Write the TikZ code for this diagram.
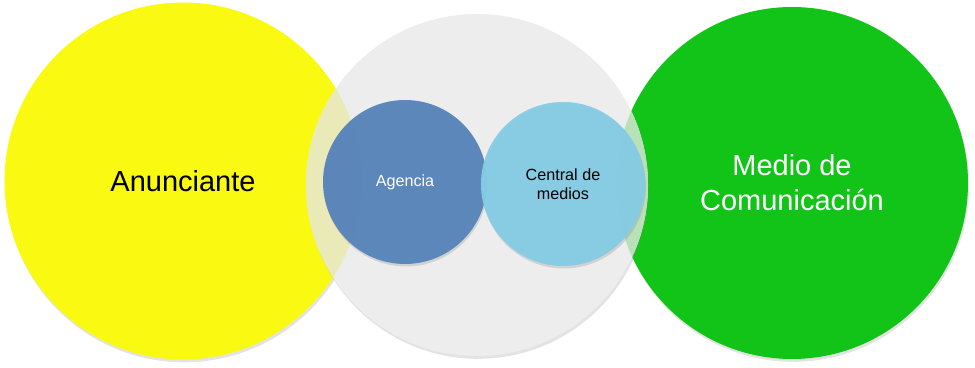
\documentclass[tikz,border=0pt]{standalone}
\usepackage{fontspec}
\setmainfont{Liberation Sans}
\usetikzlibrary{shadows}
\definecolor{anuncYellow}{HTML}{F9F912}
\definecolor{medioGreen}{HTML}{12C418}
\definecolor{ringGray}{HTML}{EDEDED}
\definecolor{paleYellow}{HTML}{EAEAB8}
\definecolor{paleGreen}{HTML}{BAE0BA}
\definecolor{agenBlue}{HTML}{5884BB}
\definecolor{centBlue}{HTML}{86CCE4}

\begin{document}
\begin{tikzpicture}[x=0.02cm, y=-0.02cm,
  bigcircle/.style={circle, draw=none, align=center, inner sep=0pt, font=\fontsize{16.5}{20}\selectfont, drop shadow={opacity=0.22, shadow xshift=0.6pt, shadow yshift=-1.6pt}},
  smallcircle/.style={circle, draw=none, align=center, inner sep=0pt, minimum size=164*0.02cm, font=\fontsize{9.2}{11}\selectfont, opacity=0.96, text opacity=1, drop shadow={opacity=0.25, shadow xshift=0.5pt, shadow yshift=-1.4pt}}]
\useasboundingbox (0,0) rectangle (975,368);
\node[bigcircle, fill=anuncYellow, minimum size=357*0.02cm] (anun) at (183,181) {Anunciante};
\node[bigcircle, fill=medioGreen, minimum size=352*0.02cm, text=white] (medio) at (792,183) {Medio de\\Comunicación};
\node[bigcircle, fill=ringGray, minimum size=342*0.02cm] (ring) at (477,185) {};
% overlaps of the gray ring with the outer circles
\begin{scope}
  \clip (anun.center) circle[radius=178.5];
  \fill[paleYellow] (ring.center) circle[radius=171];
\end{scope}
\begin{scope}
  \clip (medio.center) circle[radius=176];
  \fill[paleGreen] (ring.center) circle[radius=171];
\end{scope}
\node[smallcircle, fill=agenBlue, text=white] (agen) at (405,182) {Agencia};
\node[smallcircle, fill=centBlue] (cent) at (563,184) {Central de\\medios};
\end{tikzpicture}
\end{document}
